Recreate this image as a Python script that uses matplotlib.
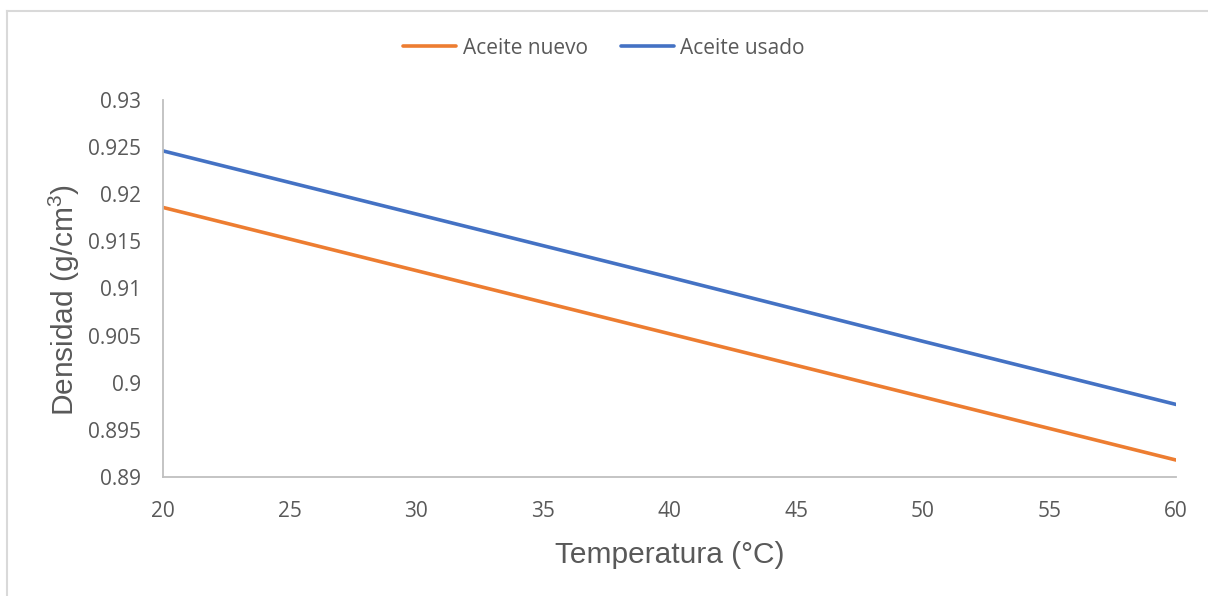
import matplotlib.pyplot as plt
from matplotlib.lines import Line2D

temperatura = [20, 30, 40, 50, 60]
aceite_nuevo = [0.9186, 0.9119, 0.9052, 0.8985, 0.8918]
aceite_usado = [0.9246, 0.9179, 0.9112, 0.9044, 0.8977]

xticks = [20, 25, 30, 35, 40, 45, 50, 55, 60]
yticks = [0.89, 0.895, 0.9, 0.905, 0.91, 0.915, 0.92, 0.925, 0.93]
ytick_labels = ["0.89", "0.895", "0.9", "0.905", "0.91", "0.915", "0.92", "0.925", "0.93"]

plt.rcParams['mathtext.fontset'] = 'custom'
plt.rcParams['mathtext.rm'] = 'Liberation Sans'

W, H = 1208, 596
fig = plt.figure(figsize=(W / 100, H / 100), dpi=100)

# outer chart border (top and left edges visible)
border = '#d9d9d9'
fig.add_artist(Line2D([7.5 / W, 1], [1 - 10.5 / H, 1 - 10.5 / H], color=border, lw=1.5))
fig.add_artist(Line2D([7.5 / W, 7.5 / W], [0, 1 - 10.5 / H], color=border, lw=1.5))

# axes area: x 163..1176, y 100..477 (pixels)
ax = fig.add_axes([163 / W, 1 - 477 / H, (1176 - 163) / W, (477 - 100) / H])

orange = '#ed7d31'
blue = '#4472c4'
ax.plot(temperatura, aceite_nuevo, color=orange, lw=2.6, solid_capstyle='round', label='Aceite nuevo')
ax.plot(temperatura, aceite_usado, color=blue, lw=2.6, solid_capstyle='round', label='Aceite usado')

ax.set_xlim(20, 60)
ax.set_ylim(0.89, 0.93)
ax.set_xticks(xticks)
ax.set_yticks(yticks)
ax.set_yticklabels(ytick_labels)

for s in ['top', 'right']:
    ax.spines[s].set_visible(False)
for s in ['left', 'bottom']:
    ax.spines[s].set_color('#bfbfbf')
    ax.spines[s].set_linewidth(1.3)

tick_color = '#595959'
ax.tick_params(length=0, labelsize=15, labelcolor=tick_color)
ax.tick_params(axis='x', pad=17)
ax.tick_params(axis='y', pad=16)
for lbl in ax.get_xticklabels() + ax.get_yticklabels():
    lbl.set_fontfamily('Open Sans')

ax.set_xlabel('Temperatura (°C)', fontsize=21.5, color=tick_color, family='Liberation Sans', labelpad=14)
ax.set_ylabel('Densidad (g/cm$^3$)', fontsize=21.5, color=tick_color, family='Liberation Sans', labelpad=4)
ax.yaxis.label.set_y(0.47)

leg = fig.legend(loc='center', bbox_to_anchor=(0.5, 1 - 48 / H), ncol=2, frameon=False,
                 prop={'family': 'Open Sans', 'size': 15}, handlelength=2.55,
                 handletextpad=0.3, columnspacing=1.6)
for t in leg.get_texts():
    t.set_color(tick_color)

fig.savefig('out.png', dpi=100)
